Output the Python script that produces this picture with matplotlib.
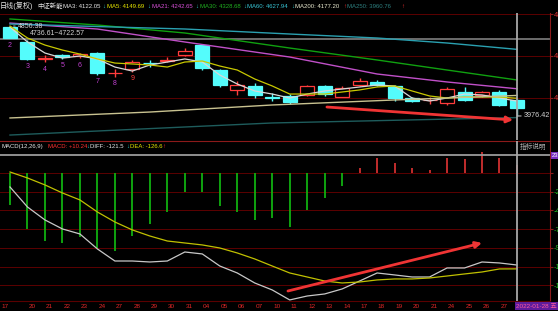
import numpy as np
import matplotlib
matplotlib.use('Agg')
import matplotlib.pyplot as plt
from matplotlib.transforms import blended_transform_factory

plt.rcParams['font.family'] = ['Liberation Sans', 'Noto Sans CJK SC', 'DejaVu Sans']

# ---- data ----
dates = ['17', '20', '21', '22', '23', '24', '27', '28', '29', '30', '31', '04', '05', '06', '07',
         '10', '11', '12', '13', '14', '17', '18', '19', '20', '21', '24', '25', '26', '27', '2022-01-28']

opens = [4846, 4700, 4535, 4573, 4563, 4592, 4395, 4436, 4497, 4518, 4573, 4670, 4426, 4231, 4270,
         4162, 4172, 4182, 4270, 4162, 4279, 4309, 4270, 4152, 4128, 4103, 4211, 4182, 4211, 4133]
highs = [4856.38, 4722.57, 4573, 4582, 4592, 4602, 4436, 4524, 4524, 4553, 4641, 4680, 4436, 4319, 4299,
         4201, 4191, 4279, 4279, 4270, 4348, 4328, 4279, 4162, 4162, 4260, 4260, 4221, 4231, 4143]
lows = [4736.61, 4524, 4504, 4534, 4543, 4377, 4358, 4407, 4455, 4504, 4563, 4426, 4260, 4182, 4152,
        4123, 4094, 4172, 4172, 4162, 4270, 4270, 4123, 4113, 4094, 4084, 4123, 4162, 4074, 3976.42]
closes = [4740, 4534, 4540, 4553, 4582, 4397, 4400, 4504, 4492, 4526, 4612, 4446, 4279, 4279, 4182,
          4156, 4113, 4270, 4191, 4250, 4319, 4279, 4152, 4123, 4133, 4240, 4133, 4211, 4084, 4052]

ma3 = [4846, 4700, 4592, 4543, 4563, 4534, 4455, 4416, 4475, 4504, 4534, 4504, 4377, 4289, 4221,
       4191, 4152, 4191, 4221, 4240, 4260, 4279, 4270, 4152, 4123, 4152, 4191, 4182, 4152, 4122.05]
ma5 = [4856, 4739, 4670, 4621, 4582, 4534, 4494, 4485, 4475, 4455, 4504, 4514, 4465, 4426, 4338,
       4270, 4191, 4191, 4191, 4211, 4231, 4260, 4270, 4221, 4172, 4152, 4162, 4162, 4162, 4149.69]

long_idx = [0, 5, 10, 16, 21, 25, 29]
ma21 = [4885, 4827, 4700, 4553, 4387, 4309, 4242.65]
ma30 = [4925, 4866, 4788, 4641, 4524, 4426, 4328.68]
ma60 = [4876, 4851, 4827, 4778, 4739, 4690, 4627.94]
ma200_idx = [0, 8, 15, 22, 29]
ma200 = [3957, 4015, 4084, 4133, 4177.20]
ma250_idx = [0, 15, 29]
ma250 = [3790, 3908, 3960.76]

td_counts = ['2', '3', '4', '5', '6', '7', '8', '9']

diff = [-18.5, -44.9, -62.0, -73.9, -80.5, -100.3, -116.2, -116.2, -117.5, -116.2, -104.3, -106.9,
        -122.8, -132.0, -145.2, -154.4, -167.6, -162.4, -159.7, -153.1, -142.6, -132.0, -134.6,
        -137.3, -137.3, -125.4, -125.4, -117.5, -118.8, -121.5]
dea = [1.3, -6.6, -15.8, -26.4, -35.6, -51.5, -64.7, -75.2, -83.2, -89.8, -92.4, -95.0, -99.0,
       -105.6, -113.5, -122.8, -132.0, -137.3, -142.6, -145.2, -143.9, -141.2, -139.9, -139.9,
       -138.6, -136.0, -133.3, -130.7, -126.7, -126.6]
macd = [-42, -74, -90, -92, -85, -99, -103, -83, -67, -51, -25, -25, -44, -51, -62, -60, -71, -49,
        -33, -17, 6, 20, 13, 7, 4, 20, 18, 28, 20, 10.24]

price_ticks = [4973.70, 4563.00, 4152.30]
macd_ticks = [0, -24.7, -49.4, -74.1, -98.8, -123.5, -148.2]

# ---- colours ----
CYAN = '#54fcfc'
RED = '#ff3c3c'
GRID = '#5c0000'
AXIS = '#8c1a1a'
TEXT = '#e6e6e6'
DOWN = '#2cc8c8'

W, H = 558, 311
fig = plt.figure(figsize=(W / 100, H / 100), dpi=100, facecolor='black')


def px_box(x0, y0, x1, y1):
    return [x0 / W, 1 - y1 / H, (x1 - x0) / W, (y1 - y0) / H]


ax = fig.add_axes(px_box(0, 13, 550, 140))
ax2 = fig.add_axes(px_box(0, 141, 550, 301))

for a in (ax, ax2):
    a.set_facecolor('black')
    a.set_xlim(-0.572, 30.89)
    a.set_xticks([])
    for s in ('left', 'top', 'bottom'):
        a.spines[s].set_visible(False)
    a.spines['right'].set_color(AXIS)
    a.yaxis.tick_right()
    a.grid(axis='y', color=GRID, lw=0.7)
    a.set_axisbelow(True)
ax2.spines['top'].set_visible(True)
ax2.spines['top'].set_color(AXIS)
ax2.spines['bottom'].set_visible(True)
ax2.spines['bottom'].set_color('#5a0000')

# ---- price panel ----
x = np.arange(len(dates))
o, h, l, c = map(np.array, (opens, highs, lows, closes))
up = c >= o
top = np.maximum(o, c)
bot = np.minimum(o, c)
ax.vlines(x[up], top[up], h[up], color=RED, lw=1, zorder=2)
ax.vlines(x[up], l[up], bot[up], color=RED, lw=1, zorder=2)
ax.vlines(x[~up], l[~up], h[~up], color=CYAN, lw=1, zorder=2)
ax.bar(x[up], (top - bot)[up], bottom=bot[up], width=0.8, facecolor='black', edgecolor=RED, lw=0.9, zorder=2)
ax.bar(x[~up], (top - bot)[~up], bottom=bot[~up], width=0.8, facecolor=CYAN, edgecolor=CYAN, lw=0.9, zorder=2)

ax.plot(x, ma3, color='#d8d8d8', lw=0.9, zorder=3)
ax.plot(x, ma5, color='#c8c800', lw=0.9, zorder=3)
ax.plot(long_idx, ma21, color='#c050c8', lw=1, zorder=3)
ax.plot(long_idx, ma30, color='#10a010', lw=1, zorder=3)
ax.plot(long_idx, ma60, color='#2aa0b0', lw=1, zorder=3)
ax.plot(ma200_idx, ma200, color='#c8c290', lw=1, zorder=3)
ax.plot(ma250_idx, ma250, color='#1e5c5c', lw=1, zorder=3)

for i, s in enumerate(td_counts):
    ax.annotate(s, (i, lows[i]), xytext=(0, -2.5), textcoords='offset points', ha='center', va='top',
                fontsize=5, color=RED if s == '9' else '#c040d0')

ax.axhline(4729, color='#8a8a8a', lw=1.1, zorder=1.5)
ax.axvline(29, color='#a8a8a8', lw=1.3, zorder=5)

ax.annotate('4856.38', xy=(0.2, 4856.38), xytext=(0.46, 4851), fontsize=5, color='#d0d0d0', va='center',
            arrowprops=dict(arrowstyle='-', color='#d0d0d0', lw=0.6, shrinkA=0, shrinkB=0))
ax.text(1.14, 4783, '4736.61~4722.57', fontsize=5, color='#d0d0d0', va='center')
ax.annotate('3976.42', xy=(29.05, 3976.42), xytext=(29.4, 3976.42), fontsize=5.2, color='#d0d0d0',
            va='center', arrowprops=dict(arrowstyle='-', color='#d0d0d0', lw=0.7, shrinkA=0, shrinkB=0),
            zorder=6)
ax.annotate('', xy=(28.78, 3937), xytext=(18.13, 4064),
            arrowprops=dict(arrowstyle='-|>', color='#f03434', lw=2, mutation_scale=9, shrinkA=0, shrinkB=0))

ax.set_ylim(3741.5, 4983.5)
ax.set_yticks(price_ticks)
ax.set_yticklabels([f'{t:.2f}' for t in price_ticks])
ax.tick_params(axis='y', colors=AXIS, labelcolor='#e03030', labelsize=5.5, length=2, pad=0.8)

# ---- MACD panel ----
ax2.vlines(x, 0, macd, colors=['#d03030' if v > 0 else '#10b010' for v in macd], lw=1.3, zorder=2)
ax2.plot(x, diff, color='#c8c8c8', lw=0.9, zorder=3)
ax2.plot(x, dea, color='#c0c000', lw=0.9, zorder=3)
ax2.axhline(23.8, color='#9a9a9a', lw=1.3, zorder=3)
ax2.axvline(29, color='#a8a8a8', lw=1.3, zorder=5)
ax2.annotate('', xy=(27.0, -92.4), xytext=(15.9, -155.8),
             arrowprops=dict(arrowstyle='-|>', color='#f03434', lw=2, mutation_scale=9, shrinkA=0, shrinkB=0))
ax2.set_ylim(-169, 42.2)
ax2.set_yticks(macd_ticks)
ax2.set_yticklabels([''] + [f'{t:.2f}' for t in macd_ticks[1:]])
ax2.tick_params(axis='y', colors=AXIS, labelcolor='#20c020', labelsize=5.5, length=2, pad=0.8)

trans = blended_transform_factory(ax2.transData, ax2.transAxes)
for i, d in enumerate(dates[:-1]):
    ax2.text(i + 0.05 if i else -0.46, -5 / 160, d, transform=trans, ha='left', va='center',
             fontsize=4.6, color='#e02828')
ax2.text(28.97, -5 / 160, dates[-1] + ' 五', transform=trans, ha='left', va='center', fontsize=4.6,
         color='#ff5aa0', bbox=dict(facecolor='#5e1c9c', edgecolor='none', pad=1.2))

# ---- header texts ----
def htext(xp, yp, s, color, size=4.35):
    fig.text(xp / W, 1 - yp / H, s, color=color, fontsize=size, ha='left', va='center')


htext(0, 6, '日线(复权)', TEXT, size=5.1)
htext(37, 6, '中证新能', TEXT, size=4.6)
row1 = [(63, 'MA3: 4122.05', TEXT), (102, '↓', DOWN),
        (107, 'MA5: 4149.69', '#e6e600'), (147, '↓', DOWN), (152, 'MA21: 4242.65', '#d850d8'),
        (195, '↓', DOWN), (200, 'MA30: 4328.68', '#20b020'), (243, '↓', DOWN),
        (247, 'MA60: 4627.94', '#38c4d4'), (291, '↓', DOWN), (295, 'MA200: 4177.20', '#eaead0'),
        (343, '↑', '#ff3030'), (347, 'MA250: 3960.76', '#2e8080'), (401, '↑', '#ff3030')]
for xp, s, col in row1:
    htext(xp, 6, s, col)

row2 = [(2, 'MACD(12,26,9)', TEXT), (48, 'MACD: +10.24', '#ff3030'), (86, '↓', DOWN),
        (90, 'DIFF: -121.5', TEXT), (126, '↓', DOWN), (130, 'DEA: -126.6', '#e6e600'),
        (162, '↑', '#ff3030')]
for xp, s, col in row2:
    htext(xp, 147, s, col)

fig.text(520 / W, 1 - 147 / H, '指标说明', color='#b0b0b0', fontsize=4.8, ha='left', va='center')
fig.text(552 / W, 1 - 155.5 / H, '23.76', color='white', fontsize=4.2, ha='left', va='center',
         bbox=dict(facecolor='#7a30c0', edgecolor='none', pad=0.6))

fig.savefig('out.png', dpi=100, facecolor='black')
